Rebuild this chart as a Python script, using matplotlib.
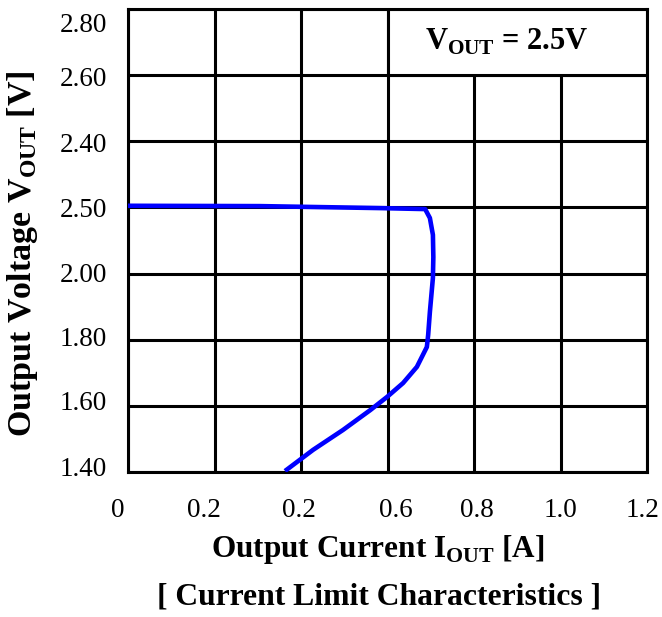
import matplotlib
matplotlib.use("Agg")
import matplotlib.pyplot as plt
from matplotlib.patches import Rectangle
from matplotlib.transforms import ScaledTranslation

plt.rcParams['font.family'] = ['Liberation Serif', 'DejaVu Serif']
plt.rcParams['mathtext.fontset'] = 'custom'
plt.rcParams['mathtext.rm'] = 'Liberation Serif'
plt.rcParams['mathtext.bf'] = 'Liberation Serif:bold'

# grid positions and the labels printed on them
x_ticks = [0.0, 0.2, 0.4, 0.6, 0.8, 1.0, 1.2]
x_labels = ['0', '0.2', '0.2', '0.6', '0.8', '1.0', '1.2']
y_ticks = [1.4, 1.6, 1.8, 2.0, 2.2, 2.4, 2.6, 2.8]
y_labels = ['1.40', '1.60', '1.80', '2.00', '2.50', '2.40', '2.60', '2.80']

# current limit curve (in grid units)
i_out = [0.0, 0.305, 0.583, 0.687, 0.698, 0.705, 0.706, 0.705, 0.698, 0.694,
         0.691, 0.668, 0.636, 0.599, 0.560, 0.497, 0.428, 0.363]
v_out = [2.205, 2.204, 2.198, 2.195, 2.168, 2.117, 2.050, 1.987, 1.884, 1.814,
         1.778, 1.718, 1.669, 1.627, 1.587, 1.527, 1.467, 1.403]

fig = plt.figure(figsize=(6.62, 6.17), dpi=100)
ax = fig.add_axes([128 / 662, 1 - 472 / 617, 519 / 662, 463 / 617])

ax.set_xlim(0, 1.2)
ax.set_ylim(1.4, 2.8)
ax.set_xticks(x_ticks)
ax.set_xticklabels(x_labels)
ax.set_yticks(y_ticks)
ax.set_yticklabels(y_labels)
ax.tick_params(length=0, labelsize=19.5)
ax.tick_params(axis='x', pad=19)
ax.tick_params(axis='y', pad=15)
ax.grid(True, color='black', linewidth=2.2)
ax.set_axisbelow(True)
for s in ax.spines.values():
    s.set_linewidth(2.2)

# small nudges of the tick labels, as placed in the original
x_shift = [-10, -11, -2, 8, 3, 0, -4]
y_shift = [5, 5, 3, 1, 0, -1, -1, -13]
for lab, d in zip(ax.get_xticklabels(), x_shift):
    lab.set_transform(lab.get_transform() + ScaledTranslation(d / 100, 0, fig.dpi_scale_trans))
for lab, d in zip(ax.get_yticklabels(), y_shift):
    lab.set_transform(lab.get_transform() + ScaledTranslation(0, d / 100, fig.dpi_scale_trans))

ax.add_patch(Rectangle((0.6, 2.6), 0.6, 0.2, facecolor='white', edgecolor='black',
                       linewidth=2.2, zorder=2))
ax.text(0.876, 2.7, r'V$_{\mathbf{OUT}}$ = 2.5V', fontsize=22, fontweight='bold',
        ha='center', va='center', zorder=4)

ax.plot(i_out, v_out, color='#0000ff', linewidth=3.3, zorder=3,
        solid_capstyle='butt', solid_joinstyle='round')

fig.text(23 / 662, 1 - 254 / 617, r'Output Voltage V$_{\mathbf{OUT}}$ [V]', rotation=90,
         fontsize=24.5, fontweight='bold', ha='center', va='center')
fig.text(378 / 662, 1 - 550 / 617, r'Output Current I$_{\mathbf{OUT}}$ [A]',
         fontsize=22.5, fontweight='bold', ha='center', va='center')
fig.text(379 / 662, 1 - 597 / 617, '[ Current Limit Characteristics ]',
         fontsize=22.8, fontweight='bold', ha='center', va='center')

fig.savefig('out.png', dpi=100)
